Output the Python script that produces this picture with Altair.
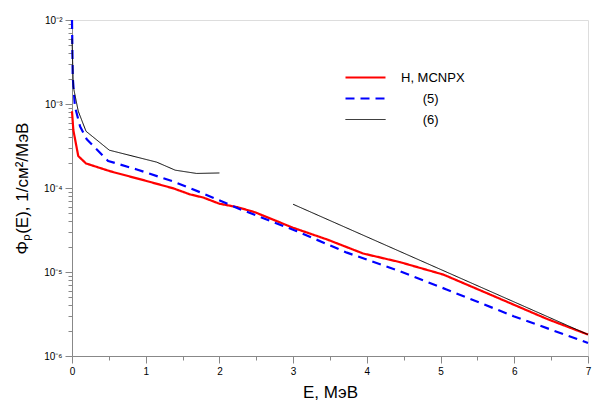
import altair as alt
import pandas as pd

# Proton flux spectra: energy (MeV) and flux (1/cm^2/MeV)
red_e = [0, 0.018, 0.085, 0.19, 0.52, 1.0, 1.375, 1.6, 1.78, 2.0, 2.25, 2.48,
         3.0, 3.46, 3.95, 4.45, 5.04, 5.67, 6.44, 7.0]
red_v = [8.2e-4, 4.9e-4, 2.4e-4, 1.96e-4, 1.58e-4, 1.22e-4, 9.9e-5, 8.4e-5,
         7.7e-5, 6.5e-5, 5.9e-5, 5.15e-5, 3.36e-5, 2.44e-5, 1.66e-5, 1.31e-5,
         9.3e-6, 5.4e-6, 2.77e-6, 1.8e-6]

blue_e = [0, 0.01, 0.04, 0.11, 0.2, 0.49, 0.88, 1.37, 1.78, 2.28, 3.05, 3.73,
          4.45, 5.08, 5.99, 7.0]
blue_v = [1e-2, 2.1e-3, 9.3e-4, 5.4e-4, 3.8e-4, 2.1e-4, 1.66e-4, 1.2e-4,
          8.6e-5, 5.6e-5, 3.06e-5, 1.7e-5, 1.02e-5, 6.2e-6, 2.98e-6, 1.43e-6]

black_low_e = [0, 0.018, 0.085, 0.19, 0.506, 1.15, 1.40, 1.69, 2.0]
black_low_v = [6e-3, 1.6e-3, 8.2e-4, 4.74e-4, 2.82e-4, 2.03e-4, 1.63e-4,
               1.49e-4, 1.51e-4]

black_high_e = [3.0, 7.0]
black_high_v = [6.4e-5, 1.8e-6]

# legend labels; the numbered ones are indented with figure spaces
INDENT = "\u200b" + "\u2007" * 3
names = ["H, MCNPX", INDENT + "(5)", INDENT + "(6)"]
widths = [2.2, 2.2, 1.0]

rows = []
for name, seg, es, vs in [
    (names[0], "a", red_e, red_v),
    (names[1], "b", blue_e, blue_v),
    (names[2], "c", black_low_e, black_low_v),
    (names[2], "d", black_high_e, black_high_v),
]:
    for i, (e, v) in enumerate(zip(es, vs)):
        rows.append({"series": name, "seg": seg, "order": i, "E": e, "flux": v})
df = pd.DataFrame(rows)

FONT = "Liberation Sans"

# Axis tick positions: majors at integers / decades, minors in between
x_ticks = [i * 0.5 for i in range(15)]
y_major = [1e-6, 1e-5, 1e-4, 1e-3, 1e-2]
y_minor = [k * 10.0 ** n for n in range(-6, -2) for k in range(2, 10)]

log10 = "log(datum.value)/LN10"
is_decade = f"abs({log10} - round({log10})) < 0.001"
sup = {-2: "\u207b\u00b2", -3: "\u207b\u00b3", -4: "\u207b\u2074",
       -5: "\u207b\u2075", -6: "\u207b\u2076"}
inner = "''"
for p, s in sup.items():
    inner = f"round({log10}) == {p} ? '10{s}' : ({inner})"
y_label = f"({is_decade}) ? ({inner}) : ''"

sort = names

chart = alt.Chart(df).mark_line(strokeJoin="round").encode(
    x=alt.X("E:Q", scale=alt.Scale(domain=[0, 7], nice=False),
            axis=alt.Axis(
                title="E,  МэВ", values=x_ticks,
                labelExpr="datum.value % 1 == 0 ? format(datum.value, 'd') : ''",
                tickSize={"condition": {"test": "datum.value % 1 == 0", "value": 7},
                          "value": 4},
                labelOverlap=False, labelFlush=False, grid=False,
                labelPadding=3, titlePadding=8, titleFontSize=17,
                titleFontWeight="normal")),
    y=alt.Y("flux:Q", scale=alt.Scale(type="log", domain=[1e-6, 1e-2], nice=False),
            axis=alt.Axis(
                title="Φₚ(E),  1/см²/МэВ", values=y_major + y_minor,
                labelExpr=y_label,
                tickSize={"condition": {"test": is_decade, "value": 7}, "value": 4},
                labelOverlap=False, labelFlush=False, grid=False,
                labelPadding=3, titlePadding=12, titleFontSize=17,
                titleFontWeight="normal")),
    color=alt.Color("series:O", sort=sort,
                    scale=alt.Scale(type="ordinal", domain=names,
                                    range=["#ff0000", "#0000ff", "#000000"]),
                    legend=alt.Legend(title=None, orient="none", legendX=272,
                                      legendY=50, symbolType="stroke",
                                      symbolSize=1600, clipHeight=15,
                                      labelFontSize=13, labelOffset=14,
                                      rowPadding=6, padding=0,
                                      labelFont=FONT, labelColor="#000")),
    strokeDash=alt.StrokeDash("series:O", sort=sort,
                              scale=alt.Scale(type="ordinal", domain=names,
                                              range=[[1, 0], [9, 6], [1, 0]])),
    strokeWidth=alt.StrokeWidth("series:O", sort=sort,
                                scale=alt.Scale(type="ordinal", domain=names,
                                                range=widths)),
    detail="seg:N",
    order="order:Q",
).properties(
    width=516, height=336,
    padding={"left": 72, "top": 20, "right": 4, "bottom": 54},
    autosize=alt.AutoSizeParams(type="none"),
).configure_view(stroke=None).configure_axis(
    domainColor="#000", domainWidth=1.2, tickColor="#000", tickWidth=1.2,
    labelFont=FONT, titleFont=FONT, labelFontSize=13, labelColor="#000",
    titleColor="#000",
).configure(background="white")

chart.save("out.html", embed_options={"renderer": "svg", "actions": False})
